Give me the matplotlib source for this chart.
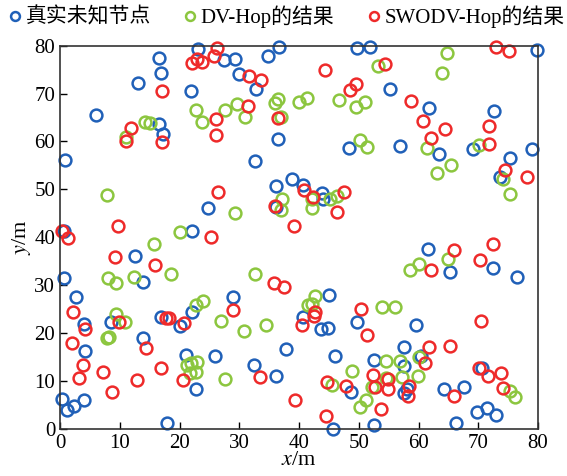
import matplotlib.pyplot as plt
import numpy as np

plt.rcParams['font.family'] = ['Liberation Serif', 'Noto Sans CJK SC']
plt.rcParams['mathtext.fontset'] = 'stix'

# true unknown node positions
true_x = [0.8, 23.1, 16.6, 16.9, 13.0, 21.9, 6.0, 16.6, 17.3, 27.4, 29.3,
          36.7, 34.8, 30.0, 32.8, 49.7, 51.9, 36.5, 48.4, 32.7,
          79.9, 55.2, 61.8, 72.7, 56.9, 63.4, 69.1, 79.0, 75.3,
          24.8, 22.0, 0.7, 12.6, 13.9, 0.7, 2.6,
          36.2, 38.8, 40.6, 43.8, 44.0, 36.2, 28.9, 45.0,
          73.7, 61.6, 65.2, 72.4, 76.5,
          4.0, 8.5, 16.9, 22.0, 20.0, 13.8, 4.2, 21.0, 25.9, 22.7, 0.4, 1.1, 2.3, 4.0, 17.9,
          40.6, 43.6, 44.9, 49.7, 37.8, 46.0, 52.6, 32.5, 36.1, 48.7, 45.6, 52.6,
          59.6, 57.5, 57.6, 60.4, 58.1, 57.5, 64.2, 67.6, 70.6, 69.7, 71.4, 72.9, 66.2]
true_y = [56.2, 79.3, 77.4, 74.4, 72.2, 70.5, 65.5, 63.6, 61.6, 77.0, 77.2,
          79.8, 77.9, 74.1, 71.0, 79.5, 79.7, 60.5, 58.6, 56.0,
          79.0, 71.0, 67.0, 66.3, 59.0, 57.4, 58.5, 58.4, 56.6,
          46.2, 41.3, 41.3, 36.1, 30.6, 31.5, 27.6,
          50.7, 52.1, 50.9, 49.3, 48.0, 46.4, 27.6, 28.0,
          52.6, 37.5, 32.7, 33.5, 31.8,
          21.8, 22.3, 23.4, 24.3, 21.5, 18.9, 16.3, 15.4, 15.2, 8.4, 6.3, 4.0, 4.8, 6.1, 1.3,
          23.4, 20.9, 21.1, 22.3, 16.7, 15.2, 14.4, 13.4, 11.1, 7.8, 0.0, 0.8,
          21.6, 17.0, 13.1, 15.3, 8.4, 7.4, 8.3, 8.8, 12.7, 3.6, 4.3, 2.8, 1.2]

# DV-Hop estimates
dv_x = [22.7, 23.7, 27.6, 14.2, 15.0, 11.0,
        29.6, 31.0, 35.9, 36.5, 36.9, 40.0, 41.4, 46.6, 49.5, 51.0, 50.2, 51.3, 53.2,
        64.8, 64.0, 61.4, 70.1, 65.4, 63.1,
        7.9, 20.0, 15.7, 18.5, 8.1, 9.3, 12.4, 24.0,
        37.1, 37.0, 42.2, 42.2, 45.2, 46.4, 29.2, 32.6, 42.6,
        74.1, 75.3, 64.9, 58.6, 60.1,
        9.4, 10.9, 7.9, 8.2, 22.8, 26.9, 21.2, 21.9, 22.9, 21.8, 22.7, 27.6,
        41.5, 42.1, 30.7, 34.4, 45.5, 48.8, 52.2, 51.2, 50.2, 53.8, 54.6, 54.5,
        56.0, 56.9, 60.1, 57.3, 59.9, 75.3, 76.2]
dv_y = [66.6, 64.0, 66.5, 64.0, 63.9, 60.9,
        67.8, 65.1, 68.0, 68.8, 65.1, 68.2, 69.0, 68.6, 67.1, 68.3, 60.3, 58.9, 75.7,
        78.4, 74.3, 58.7, 59.3, 55.0, 53.4,
        48.9, 41.0, 38.5, 32.3, 31.5, 30.4, 31.8, 26.7,
        47.9, 45.6, 48.0, 46.1, 48.0, 48.6, 45.0, 32.3, 27.7,
        52.1, 49.1, 35.5, 33.1, 34.4,
        24.0, 22.4, 19.0, 19.1, 25.9, 22.5, 13.4, 13.8, 14.0, 11.6, 11.8, 10.4,
        25.9, 26.0, 20.5, 21.6, 9.2, 12.1, 8.7, 6.0, 4.5, 25.4, 14.1, 10.6,
        25.5, 14.2, 15.0, 10.9, 11.1, 8.0, 6.7]

# SWODV-Hop estimates
sw_x = [26.3, 22.9, 22.1, 23.7, 25.8, 17.1, 26.1, 26.1, 11.8, 11.0, 17.0,
        31.6, 33.6, 44.3, 48.5, 49.5, 31.4, 36.5,
        73.0, 75.1, 54.4, 58.7, 60.8, 64.5, 62.0, 71.8, 71.8, 74.5,
        26.5, 9.7, 0.3, 1.3, 25.3, 9.2, 15.9,
        40.8, 42.3, 47.5, 35.9, 46.4, 39.2, 35.8, 37.4,
        78.1, 65.9, 72.4, 70.3, 62.0,
        2.1, 4.1, 2.0, 9.9, 17.7, 18.2, 20.8, 14.4, 3.8, 3.1, 7.2, 16.9, 12.9, 20.6, 8.7,
        28.9, 42.6, 42.5, 40.5, 50.4, 51.4, 33.5, 44.7, 47.8, 52.3, 52.7, 39.3, 44.5, 53.7,
        70.5, 61.8, 65.2, 61.0, 70.1, 71.7, 73.8, 74.2, 54.9, 54.9, 58.4, 58.2, 65.9]
sw_y = [79.5, 77.2, 76.3, 76.5, 77.9, 70.5, 64.7, 61.4, 62.9, 60.0, 59.9,
        73.6, 72.8, 74.9, 70.8, 72.0, 67.4, 64.9,
        79.8, 78.8, 76.1, 68.5, 64.2, 62.6, 60.8, 63.3, 59.4, 54.0,
        49.5, 42.3, 41.4, 39.8, 40.0, 35.8, 34.2,
        49.9, 48.5, 49.5, 46.6, 45.2, 42.4, 30.5, 29.6,
        52.5, 37.4, 38.6, 35.3, 33.1,
        24.4, 20.8, 18.0, 22.4, 23.2, 23.2, 22.2, 16.8, 13.3, 10.7, 11.8, 12.7, 10.2, 10.2, 7.7,
        24.9, 24.5, 23.6, 21.6, 25.1, 19.6, 10.9, 9.8, 9.0, 11.3, 8.8, 6.1, 2.6, 4.2,
        22.6, 17.1, 17.2, 13.8, 12.7, 11.0, 11.7, 8.5, 10.4, 8.4, 9.0, 6.9, 6.8]

labels = ['真实未知节点', 'DV-Hop的结果', 'SWODV-Hop的结果']
colors = ['#2060b8', '#8cc63f', '#ee2a2a']

fig = plt.figure(figsize=(5.67, 4.76), dpi=100)
ax = fig.add_axes([0.106, 0.099, 0.843, 0.805])

ms = 8.5
mew = 1.8
ax.plot(true_x, true_y, 'o', ms=ms, mfc='none', mec=colors[0], mew=mew, label=labels[0], clip_on=False)
ax.plot(dv_x, dv_y, 'o', ms=ms, mfc='none', mec=colors[1], mew=mew, label=labels[1], clip_on=False)
ax.plot(sw_x, sw_y, 'o', ms=ms, mfc='none', mec=colors[2], mew=mew, label=labels[2], clip_on=False)

ax.set_xlim(0, 80)
ax.set_ylim(0, 80)
ax.set_xticks(np.arange(0, 81, 10))
ax.set_yticks(np.arange(0, 81, 10))
ax.tick_params(direction='in', length=5, width=1, labelsize=15, top=False, right=False)
for s in ax.spines.values():
    s.set_color('#333333')
    s.set_linewidth(1.2)

ax.set_xlabel('$x$/m', fontsize=16, labelpad=-1)
ax.set_ylabel('$y$/m', fontsize=16, labelpad=1)

fig.legend(loc='upper center', bbox_to_anchor=(0.5, 1.015), ncol=3, frameon=False,
           fontsize=15, handletextpad=-0.1, columnspacing=1.3, markerscale=0.75,
           handlelength=1.2, borderaxespad=0.2)

fig.savefig('out.png', dpi=100)
